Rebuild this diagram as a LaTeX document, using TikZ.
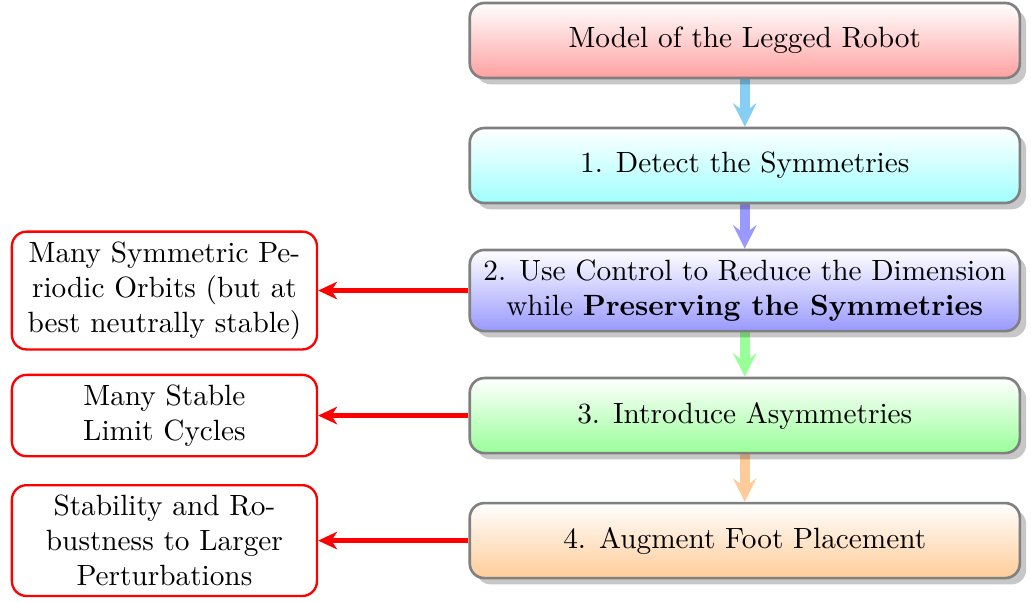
\documentclass[tikz,border=0pt]{standalone}
\usepackage{tikz}
\usetikzlibrary{positioning, arrows.meta, shadows, backgrounds}

\definecolor{skyarrow}{RGB}{135,206,245}

\tikzset{
  stepbox/.style={draw=gray, line width=0.9pt, rounded corners=5pt,
    minimum width=6.6cm, minimum height=0.9cm, align=center,
    top color=white, drop shadow={fill=black, opacity=.22}},
  resultbox/.style={draw=red, line width=0.8pt, rounded corners=5pt,
    minimum width=3.66cm, align=center, fill=white},
  flow/.style={line width=3.4pt, -{Stealth[length=8pt, width=8pt, inset=3pt]}},
  result/.style={red, line width=1.7pt, -{Stealth[length=6.5pt, width=6pt, inset=2pt]}},
}

\begin{document}
\begin{tikzpicture}[node distance=1.5cm, on grid]
\useasboundingbox (0,0) rectangle (12.37,-7.22);

% Schritte rechts
\node[stepbox, bottom color=red!37] (model) at (8.936,-0.486) {Model of the Legged Robot};
\node[stepbox, bottom color=cyan!37, below=of model] (detect) {1. Detect the Symmetries};
\node[stepbox, bottom color=blue!40, below=of detect] (reduce) {2. Use Control to Reduce the Dimension\\while \textbf{Preserving the Symmetries}};
\node[stepbox, bottom color=green!40, below=of reduce] (asym) {3. Introduce Asymmetries};
\node[stepbox, bottom color=orange!40, below=of asym] (foot) {4. Augment Foot Placement};

% Ergebnisse links
\node[resultbox, left=6.963cm of reduce] (orbits) {Many Symmetric Pe-\\riodic Orbits (but at\\best neutrally stable)};
\node[resultbox, left=6.963cm of asym] (cycles) {Many Stable\\Limit Cycles};
\node[resultbox, left=6.963cm of foot] (robust) {Stability and Ro-\\bustness to Larger\\Perturbations};

% Pfeile
\begin{scope}[on background layer]
\draw[flow, skyarrow] (model.south) -- (detect.north);
\draw[flow, blue!40] (detect.south) -- (reduce.north);
\draw[flow, green!40] (reduce.south) -- (asym.north);
\draw[flow, orange!40] (asym.south) -- (foot.north);
\end{scope}

\draw[result] (reduce.west) -- (orbits.east);
\draw[result] (asym.west) -- (cycles.east);
\draw[result] (foot.west) -- (robust.east);
\end{tikzpicture}
\end{document}
